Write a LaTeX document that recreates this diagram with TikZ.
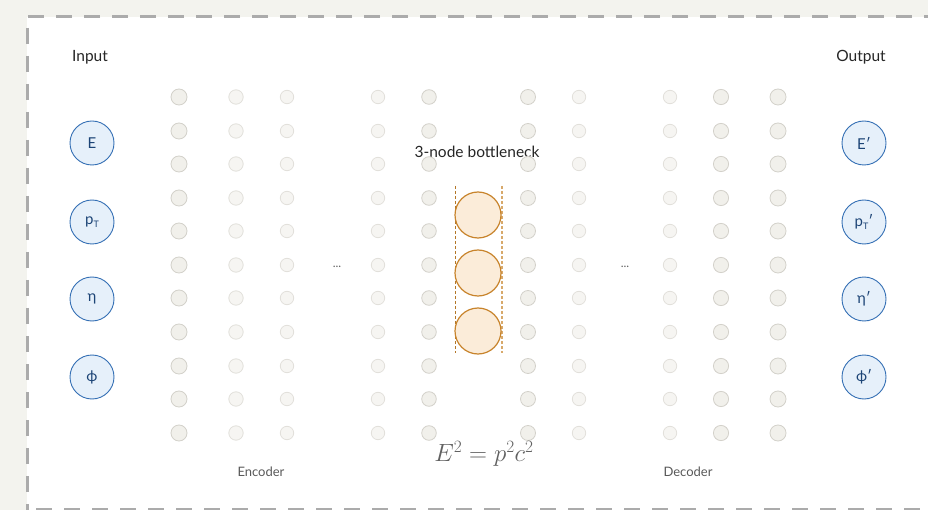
\documentclass[tikz,border=0pt]{standalone}
\usepackage{fontspec}
\setmainfont{Lato}
\begin{document}
\begin{tikzpicture}[x=1pt,y=-1pt,
  io/.style={circle,draw=blueedge,fill=bluefill,line width=0.9pt,minimum size=44pt,inner sep=0pt,text=bluetext,font=\fontsize{15}{16}\selectfont},
  bneck/.style={circle,draw=orangeedge,fill=orangefill,line width=1.2pt,minimum size=46pt,inner sep=0pt},
  hidA/.style={circle,draw=grayedgeA,fill=grayfillA,line width=0.8pt,inner sep=0pt},
  hidB/.style={circle,draw=grayedgeB,fill=grayfillB,line width=0.8pt,inner sep=0pt},
  title/.style={font=\fontsize{15.5}{17}\selectfont,text=black!85},
  caption/.style={font=\fontsize{13}{15}\selectfont,text=black!65},
  dots/.style={font=\fontsize{12}{13}\selectfont,text=black!60}]
\definecolor{bluefill}{HTML}{E6F0FA}
\definecolor{blueedge}{HTML}{3570B5}
\definecolor{bluetext}{HTML}{1C4476}
\definecolor{orangefill}{HTML}{FBECD9}
\definecolor{orangeedge}{HTML}{C8842C}
\definecolor{grayfillA}{HTML}{F1F0EB}
\definecolor{grayedgeA}{HTML}{D3D1CA}
\definecolor{grayfillB}{HTML}{F6F5F2}
\definecolor{grayedgeB}{HTML}{E2E0DB}
\definecolor{pagebg}{HTML}{F3F3EE}
\definecolor{borderc}{HTML}{ABABAB}
\useasboundingbox (0,0) rectangle (928,510);
\fill[pagebg] (0,0) rectangle (928,510);
\fill[white] (27,17) rectangle (940,520);
\draw[borderc,line width=3pt,dash pattern=on 16pt off 12pt] (940,17) -- (27,17) -- (27,520);
\draw[borderc,line width=3pt,dash pattern=on 16pt off 12pt] (36,509) -- (940,509);
% labels
\node[title] (lin) at (90,57) {Input};
\node[title] (lout) at (861,57) {Output};
\node[title] (lbn) at (477,152) {3-node bottleneck};
\node[caption] (lenc) at (261,472) {Encoder};
\node[caption] (ldec) at (688,472) {Decoder};
\node[dots] (d1) at (337,267) {...};
\node[dots] (d2) at (625,267) {...};
% hidden columns
\foreach \x/\r/\s [count=\c] in {179/8/hidA,236/7.2/hidB,287/6.7/hidB,378/6.7/hidB,429/7.3/hidA,528/7.5/hidA,579/6.7/hidB,670/6.7/hidB,721/7.6/hidA,778/8/hidA}{
  \foreach \y [count=\k] in {97,131,164,198,231,265,298,332,366,399,433}{
    \node[\s,minimum size=2*\r pt] (h\c-\k) at (\x,\y) {};
  }
}
% bottleneck
\coordinate (bl1) at (455,186);
\coordinate (bl2) at (455,353);
\coordinate (br1) at (502,186);
\coordinate (br2) at (502,353);
\draw[orangeedge!90!black,line width=0.8pt,dash pattern=on 3pt off 2pt] (bl1) -- (bl2);
\draw[orangeedge!70,line width=1.2pt,dash pattern=on 3pt off 2pt] (br1) -- (br2);
\node[bneck] (b1) at (478,215) {};
\node[bneck] (b2) at (478,273) {};
\node[bneck] (b3) at (478,331) {};
% inputs
\node[io] (iE) at (92,143) {E};
\node[io] (ip) at (92,222) {p\raisebox{-0.35ex}{\fontsize{9}{10}\selectfont T}};
\node[io] (ieta) at (92,299) {η};
\node[io] (iphi) at (92,377) {ϕ};
% outputs
\node[io] (oE) at (864,143) {E′};
\node[io] (op) at (864,222) {p\raisebox{-0.35ex}{\fontsize{9}{10}\selectfont T}′};
\node[io] (oeta) at (864,299) {η′};
\node[io] (ophi) at (864,377) {ϕ′};
% formula
\node[text=black!62,font=\fontsize{23}{25}\selectfont] (eq) at (484,454) {$E^2 = p^2c^2$};
\end{tikzpicture}
\end{document}
